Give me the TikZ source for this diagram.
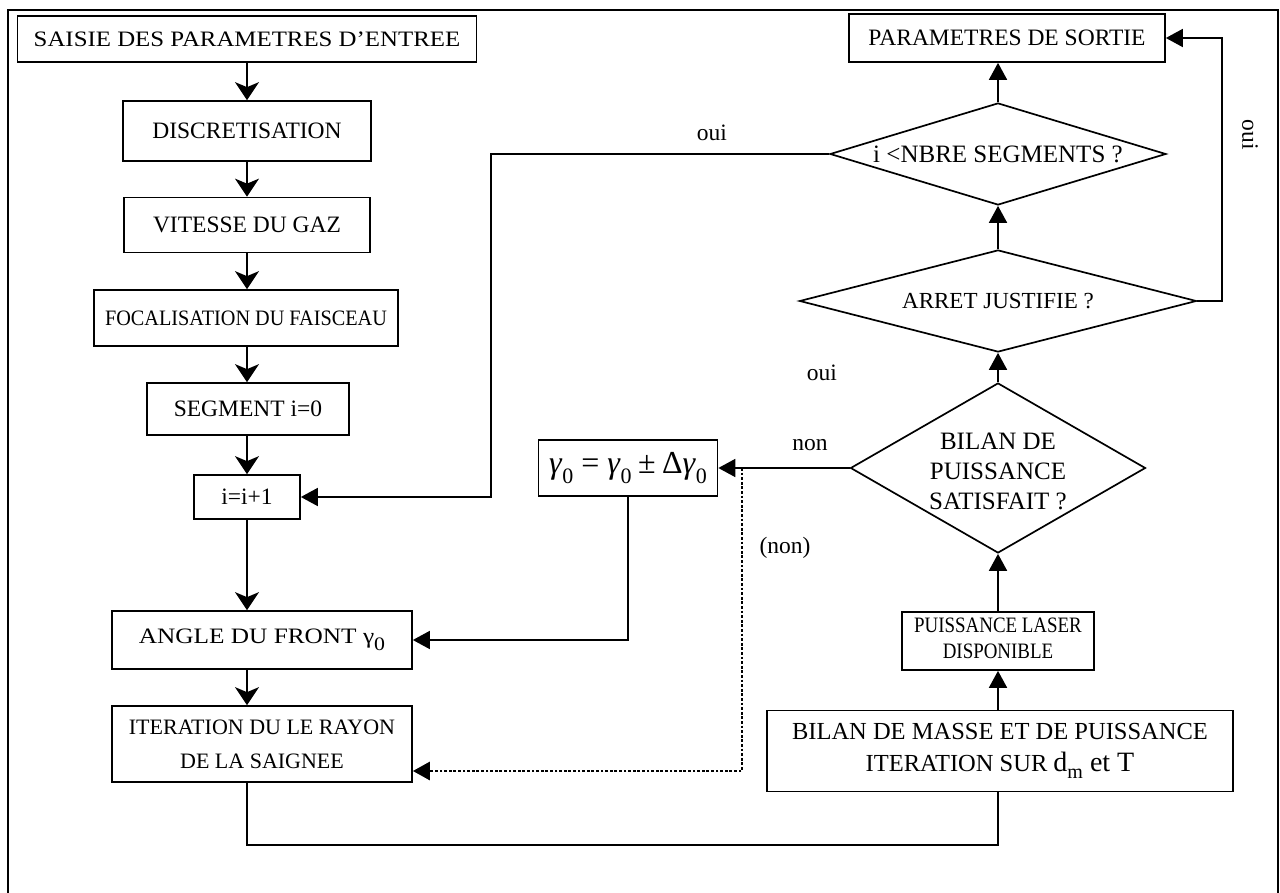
\documentclass[tikz,border=0pt]{standalone}
\usepackage{fontspec}
\setmainfont{Liberation Serif}
\usetikzlibrary{arrows.meta,shapes.geometric,calc}
\newcommand\fs[2]{\fontsize{#1}{#2}\selectfont}
\newcommand\gzi{\textit{γ}\raisebox{-0.3em}{\fontsize{22}{22}\selectfont 0}}
\newcommand\gzu{γ\raisebox{-0.3em}{\fontsize{19}{19}\selectfont 0}}
\newcommand\twolines[3]{\begin{tabular}{@{}c@{}}#1\\[#3]#2\end{tabular}}
\begin{document}
\begin{tikzpicture}[x=1pt,y=-1pt,
  box/.style={draw, line width=1.7pt, inner sep=0pt, align=center, font=\fs{23.5}{32}},
  dia/.style={draw, diamond, line width=1.7pt, inner sep=0pt},
  lbl/.style={font=\fs{23.5}{30}, inner sep=0pt, align=center},
  ln/.style={line width=1.8pt},
  varr/.style={line width=1.8pt, -{Stealth[length=18pt,width=24pt,inset=5pt]}},
  harr/.style={line width=1.8pt, -{Triangle[length=17pt,width=18pt]}},
  dots/.style={line width=2.8pt, dash pattern=on 2.8pt off 1.8pt, -{Triangle[length=17pt,width=18pt]}}]
\useasboundingbox (0,0) rectangle (1280,893);
% frame
\draw[line width=1.6pt] (8,893) -- (8,10) -- (1278,10) -- (1278,893);
% left column
\node[box, minimum width=459pt, minimum height=46pt, font=\fs{22}{30}] (b1) at (247,39) {\scalebox{1.13}[1]{SAISIE DES PARAMETRES D’ENTREE}};
\node[box, minimum width=248pt, minimum height=60pt] (b2) at (247,131) {DISCRETISATION};
\node[box, minimum width=246pt, minimum height=55pt] (b3) at (247,225) {VITESSE DU GAZ};
\node[box, minimum width=304pt, minimum height=56pt, font=\fs{22}{28}] (b4) at (246,318) {\scalebox{0.92}[1]{FOCALISATION DU FAISCEAU}};
\node[box, minimum width=202pt, minimum height=52pt] (b5) at (248,409) {SEGMENT i=0};
\node[box, minimum width=106pt, minimum height=44pt] (b6) at (247,497) {i=i+1};
\node[box, minimum width=300pt, minimum height=58pt, font=\fs{22}{30}] (b7) at (262,640) {\scalebox{1.15}[1]{ANGLE DU FRONT \gzu}};
\node[box, minimum width=300pt, minimum height=76pt, font=\fs{22}{34}] (b8) at (262,744) {ITERATION DU LE RAYON\\DE LA SAIGNEE};
% right column
\node[box, minimum width=466pt, minimum height=81pt, font=\fs{24.5}{32}] (b9) at (1000,751) {BILAN DE MASSE ET DE PUISSANCE\\ITERATION SUR {\fs{28}{28}d\raisebox{-0.25em}{\fs{20}{20}m} et T}};
\node[box, minimum width=192pt, minimum height=58pt, font=\fs{22}{24}] (b10) at (998,641) {\scalebox{0.86}[1]{\twolines{PUISSANCE LASER}{DISPONIBLE}{2pt}}};
\node[dia, minimum width=295pt, minimum height=170pt] (d1) at (998,468) {};
\node[lbl, font=\fs{25}{30}] (t1) at (998,471) {BILAN DE\\PUISSANCE\\SATISFAIT ?};
\node[dia, minimum width=397pt, minimum height=102pt] (d2) at (998,301) {};
\node[lbl, font=\fs{23}{30}] (t2) at (998,301) {ARRET JUSTIFIE ?};
\node[dia, minimum width=336pt, minimum height=102pt] (d3) at (998,154) {};
\node[lbl, font=\fs{25}{30}] (t3) at (998,154) {i <NBRE SEGMENTS ?};
\node[box, minimum width=316pt, minimum height=48pt] (b11) at (1007,38) {PARAMETRES DE SORTIE};
% gamma box
\node[box, minimum width=179pt, minimum height=56pt, font=\fs{32}{34}] (g) at (628,468) {\gzi\hspace{0.25em}=\hspace{0.25em}\gzi\hspace{0.2em}±\hspace{0.2em}Δ\gzi};
% helper coordinates
\coordinate (c1) at (247,845);
\coordinate (c2) at (491,156);
\coordinate (c3) at (1222,301);
\coordinate (dj) at (742,468);
% left column arrows
\draw[varr] (b1.south) -- (b2.north);
\draw[varr] (b2.south) -- (b3.north);
\draw[varr] (b3.south) -- (b4.north -| b3.south);
\draw[varr] (b4.south -| b3.south) -- (b5.north -| b3.south);
\draw[varr] (b5.south -| b6.south) -- (b6.north);
\draw[varr] (b6.south) -- (b6.south |- b7.north);
\draw[varr] (b6.south |- b7.south) -- (b6.south |- b8.north);
% right column
\draw[ln] (b6.south |- b8.south) -- (c1) -| (b9.south -| b10.south);
\draw[harr] (b9.north -| b10.south) -- (b10.south);
\draw[harr] (b10.north) -- (d1.south);
\draw[harr] (d1.north) -- (d2.south);
\draw[harr] (d2.north) -- (d3.south);
\draw[harr] (d3.north) -- (d3.north |- b11.south);
\draw[harr] (d2.east) -- (c3) |- (b11.east);
\draw[harr] (d3.west) -- (d3.west -| c2) |- (b6.east);
\draw[harr] (d1.west) -- (g.east);
\draw[harr] (g.south) |- (b7.east);
\draw[dots] (dj) |- ($(b8.east)+(0,27)$);
% labels
\node[lbl] (l1) at (712,133) {oui};
\node[lbl] (l2) at (822,373) {oui};
\node[lbl] (l3) at (810,445) {non};
\node[lbl] (l4) at (785,548) {(non)};
\node[lbl, rotate=-90] (l5) at (1250,135) {oui};
\end{tikzpicture}
\end{document}
